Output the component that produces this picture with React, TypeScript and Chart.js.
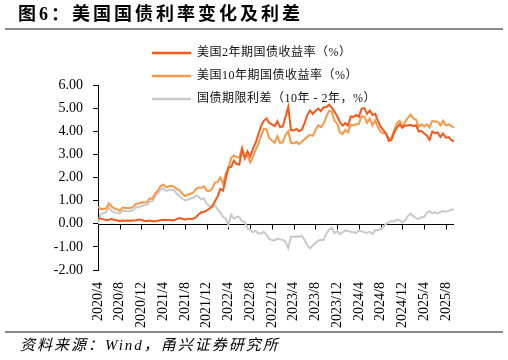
import { useEffect, useRef } from "react";
import { Chart, registerables } from "chart.js";

Chart.register(...registerables);

// x axis: months since 2020/4, two readings per month
const xTickLabels = [
  "2020/4", "2020/8", "2020/12", "2021/4", "2021/8", "2021/12",
  "2022/4", "2022/8", "2022/12", "2023/4", "2023/8", "2023/12",
  "2024/4", "2024/8", "2024/12", "2025/4", "2025/8",
];
const monthsPerTick = 4;
const pointsPerMonth = 2;
const yTickValues = [-2, -1, 0, 1, 2, 3, 4, 5, 6];

const seriesNames = [
  "美国2年期国债收益率（%）",
  "美国10年期国债收益率（%）",
  "国债期限利差（10年 - 2年，%）",
];

const us2y = [
  // 2020 Apr-Dec
  0.25, 0.21, 0.19, 0.16, 0.17, 0.20, 0.16, 0.15, 0.11, 0.14, 0.13, 0.14, 0.13, 0.14, 0.15, 0.18, 0.16, 0.12,
  // 2021
  0.12, 0.14, 0.11, 0.11, 0.13, 0.15, 0.17, 0.16, 0.16, 0.15, 0.15, 0.21, 0.25, 0.22, 0.18, 0.22, 0.21, 0.22, 0.28, 0.40, 0.50, 0.52, 0.57, 0.66,
  // 2022
  0.73, 0.97, 1.18, 1.50, 1.43, 1.95, 2.44, 2.46, 2.73, 2.58, 2.56, 3.20, 2.83, 3.13, 2.90, 3.25, 3.50, 3.87, 4.22, 4.45, 4.55, 4.36, 4.30, 4.22,
  // 2023
  4.43, 4.18, 4.21, 4.63, 5.05, 4.05, 4.03, 4.10, 4.00, 4.07, 4.35, 4.70, 4.90, 4.75, 4.88, 4.98, 4.87, 5.04, 5.05, 5.15, 5.02, 4.85, 4.65, 4.40,
  // 2024
  4.25, 4.35, 4.25, 4.64, 4.62, 4.70, 4.62, 4.98, 5.00, 4.75, 4.90, 4.70, 4.75, 4.45, 4.20, 4.05, 3.90, 3.58, 3.62, 3.95, 4.17, 4.30, 4.15, 4.25,
  // 2025 Jan-Sep
  4.25, 4.28, 4.22, 4.26, 3.99, 4.02, 3.90, 3.82, 3.63, 3.99, 3.92, 3.95, 3.75, 3.90, 3.72, 3.75, 3.62, 3.55,
];

const us10y = [
  // 2020 Apr-Dec
  0.72, 0.64, 0.64, 0.66, 0.88, 0.75, 0.66, 0.62, 0.55, 0.70, 0.68, 0.68, 0.68, 0.75, 0.87, 0.88, 0.93, 0.92,
  // 2021
  0.93, 1.10, 1.08, 1.30, 1.43, 1.62, 1.70, 1.58, 1.62, 1.63, 1.60, 1.50, 1.45, 1.30, 1.20, 1.26, 1.30, 1.34, 1.50, 1.57, 1.55, 1.62, 1.43, 1.42,
  // 2022
  1.51, 1.78, 1.80, 2.00, 1.72, 2.18, 2.39, 2.85, 2.95, 2.88, 2.85, 3.30, 2.90, 2.93, 2.65, 2.88, 3.20, 3.45, 3.80, 4.10, 4.08, 3.70, 3.60, 3.50,
  // 2023
  3.79, 3.50, 3.52, 3.85, 4.00, 3.50, 3.47, 3.55, 3.44, 3.55, 3.65, 3.76, 3.84, 3.80, 4.05, 4.25, 4.18, 4.33, 4.62, 4.88, 4.85, 4.45, 4.33, 3.95,
  // 2024
  3.88, 4.06, 3.95, 4.28, 4.25, 4.30, 4.33, 4.65, 4.63, 4.36, 4.55, 4.25, 4.47, 4.17, 3.98, 3.90, 3.90, 3.64, 3.74, 4.05, 4.35, 4.45, 4.20, 4.40,
  // 2025 Jan-Sep
  4.58, 4.72, 4.55, 4.50, 4.20, 4.30, 4.20, 4.30, 4.17, 4.45, 4.42, 4.40, 4.25, 4.45, 4.25, 4.30, 4.23, 4.15,
];

const termSpread = [
  // 2020 Apr-Dec
  0.00, 0.43, 0.45, 0.50, 0.71, 0.55, 0.50, 0.47, 0.44, 0.56, 0.55, 0.54, 0.55, 0.61, 0.72, 0.70, 0.77, 0.80,
  // 2021
  0.81, 0.96, 0.97, 1.19, 1.30, 1.47, 1.53, 1.42, 1.46, 1.48, 1.45, 1.29, 1.20, 1.08, 1.02, 1.04, 1.09, 1.12, 1.22, 1.17, 1.05, 1.10, 0.86, 0.76,
  // 2022
  0.78, 0.81, 0.62, 0.50, 0.29, 0.23, -0.05, 0.39, 0.22, 0.30, 0.29, 0.10, 0.07, -0.20, -0.25, -0.37, -0.30, -0.42, -0.42, -0.35, -0.47, -0.66, -0.70, -0.72,
  // 2023
  -0.64, -0.68, -0.69, -0.78, -1.05, -0.55, -0.56, -0.55, -0.56, -0.52, -0.70, -0.94, -1.06, -0.95, -0.83, -0.73, -0.69, -0.71, -0.43, -0.27, -0.17, -0.40, -0.32, -0.45,
  // 2024
  -0.37, -0.29, -0.30, -0.36, -0.37, -0.40, -0.29, -0.33, -0.37, -0.39, -0.35, -0.45, -0.28, -0.28, -0.22, -0.15, 0.00, 0.06, 0.12, 0.10, 0.18, 0.15, 0.05, 0.15,
  // 2025 Jan-Sep
  0.33, 0.44, 0.33, 0.24, 0.21, 0.28, 0.30, 0.48, 0.54, 0.46, 0.50, 0.45, 0.50, 0.55, 0.53, 0.55, 0.61, 0.60,
];

const colors = ["#F4581A", "#F89848", "#C9C9C9"];

const serif = '"Liberation Serif", "Times New Roman", "Noto Sans CJK SC", serif';
const cjk = '"Liberation Serif", "Noto Sans CJK SC", serif';

export default function App() {
  const ref = useRef<HTMLCanvasElement>(null);

  useEffect(() => {
    if (!ref.current) return;
    const toPts = (arr: number[]) => arr.map((v, i) => ({ x: i / pointsPerMonth, y: v }));

    const zeroAxis = {
      id: "zeroAxis",
      beforeDatasetsDraw(chart: any) {
        const { ctx, chartArea, scales } = chart;
        const y0 = Math.round(scales.y.getPixelForValue(0)) + 0.5;
        ctx.save();
        ctx.strokeStyle = "#000";
        ctx.lineWidth = 1;
        ctx.beginPath();
        ctx.moveTo(chartArea.left, y0);
        ctx.lineTo(chartArea.right, y0);
        xTickLabels.forEach((_, k) => {
          const x = Math.round(scales.x.getPixelForValue(k * monthsPerTick)) + 0.5;
          ctx.moveTo(x, y0);
          ctx.lineTo(x, y0 + 5);
        });
        ctx.stroke();
        ctx.restore();
      },
    };

    const legendPlugin = {
      id: "manualLegend",
      afterDraw(chart: any) {
        const { ctx } = chart;
        ctx.save();
        chart.data.datasets.forEach((ds: any, k: number) => {
          const y = 53 + k * 23;
          ctx.strokeStyle = ds.borderColor;
          ctx.lineWidth = 2.5;
          ctx.beginPath();
          ctx.moveTo(152, y);
          ctx.lineTo(191, y);
          ctx.stroke();
          ctx.fillStyle = "#111";
          ctx.font = `12px ${cjk}`;
          ctx.textBaseline = "middle";
          ctx.textAlign = "left";
          if ("letterSpacing" in ctx) (ctx as any).letterSpacing = "0.5px";
          ctx.fillText(ds.label, 197, y);
        });
        ctx.restore();
      },
    };

    const chart = new Chart(ref.current, {
      type: "line",
      data: {
        datasets: [us2y, us10y, termSpread].map((arr, k) => ({
          label: seriesNames[k],
          data: toPts(arr),
          borderColor: colors[k],
          backgroundColor: colors[k],
          borderWidth: 2,
          pointRadius: 0,
          tension: 0,
          fill: false,
        })),
      },
      options: {
        responsive: false,
        animation: false,
        events: [],
        layout: { padding: { left: 0, right: 54, top: 85, bottom: 30 } },
        plugins: { legend: { display: false }, tooltip: { enabled: false } },
        scales: {
          x: {
            type: "linear",
            min: 0,
            max: 65.5,
            afterBuildTicks: (s: any) => {
              s.ticks = xTickLabels.map((_, k) => ({ value: k * monthsPerTick }));
            },
            afterFit: (s: any) => {
              s.height = 60;
            },
            ticks: {
              autoSkip: false,
              maxRotation: 90,
              minRotation: 90,
              padding: 4,
              color: "#000",
              font: { family: serif, size: 14 },
              callback: (_v: any, idx: number) => xTickLabels[idx],
            },
            grid: { display: false },
            border: { display: false },
          },
          y: {
            min: yTickValues[0],
            max: yTickValues[yTickValues.length - 1],
            afterBuildTicks: (s: any) => {
              s.ticks = yTickValues.map((v) => ({ value: v }));
            },
            afterFit: (s: any) => {
              s.width = 98;
            },
            ticks: {
              padding: 10,
              color: "#000",
              font: { family: serif, size: 14 },
              callback: (v: any) => Number(v).toFixed(2),
            },
            grid: {
              display: true,
              drawOnChartArea: false,
              drawTicks: true,
              tickLength: 5,
              color: "#000",
            },
            border: { display: true, color: "#000", width: 1 },
          },
        },
      },
      plugins: [zeroAxis, legendPlugin],
    });
    return () => chart.destroy();
  }, []);

  return (
    <div style={{ position: "fixed", left: 0, top: 0, width: 508, height: 360, background: "#fff", overflow: "hidden" }}>
      <canvas ref={ref} width={508} height={360} style={{ position: "absolute", left: 0, top: 0, width: 508, height: 360 }} />
      <div
        style={{
          position: "absolute",
          left: 18,
          top: 2,
          fontFamily: cjk,
          fontWeight: "bold",
          fontSize: 18,
          letterSpacing: 3,
          lineHeight: "24px",
          color: "#000",
          whiteSpace: "nowrap",
        }}
      >
        图6：美国国债利率变化及利差
      </div>
      <div style={{ position: "absolute", left: 5, top: 28, width: 498, height: 2, background: "#8a8a8a" }} />
      <div style={{ position: "absolute", left: 5, top: 331, width: 498, height: 2, background: "#8a8a8a" }} />
      <div
        style={{
          position: "absolute",
          left: 20,
          top: 335,
          fontFamily: cjk,
          fontStyle: "italic",
          fontSize: 15,
          letterSpacing: 2,
          lineHeight: "20px",
          color: "#000",
          whiteSpace: "nowrap",
        }}
      >
        资料来源：Wind，甬兴证券研究所
      </div>
    </div>
  );
}
